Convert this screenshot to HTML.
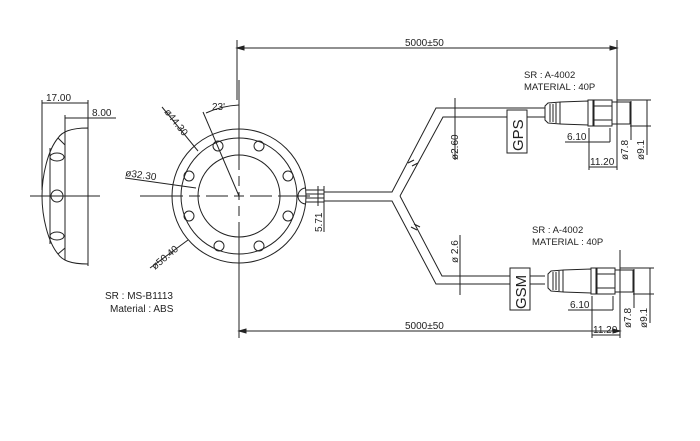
<!DOCTYPE html>
<html><head><meta charset="utf-8"><style>
html,body{margin:0;padding:0;background:#fff;}
svg{display:block;}
text{font-family:"Liberation Sans",sans-serif;fill:#222;}
</style></head><body>
<svg width="700" height="441" viewBox="0 0 700 441" xmlns="http://www.w3.org/2000/svg" stroke="#222" fill="none" stroke-width="1">
<!-- Side view -->
<path d="M88 128 C70 128 62 132 58 138 C48 150 42 175 42 196 C42 217 48 242 58 254 C62 260 70 264 88 264 Z"/>
<line x1="88" y1="124" x2="88" y2="266"/>
<line x1="65" y1="132" x2="65" y2="260"/>
<line x1="50" y1="148" x2="50" y2="244"/>
<ellipse cx="57" cy="157" rx="7" ry="4"/>
<ellipse cx="57" cy="196" rx="6" ry="6"/>
<ellipse cx="57" cy="236" rx="7" ry="4"/>
<path d="M58 138 L65 145 M58 254 L65 248"/>
<line x1="30" y1="196" x2="100" y2="196"/>
<!-- dims side -->
<line x1="42" y1="100" x2="42" y2="190"/>
<line x1="88" y1="100" x2="88" y2="124"/>
<line x1="42" y1="103" x2="88" y2="103"/>
<line x1="65" y1="115" x2="65" y2="132"/>
<line x1="65" y1="118" x2="116" y2="118"/>
<text x="46" y="101" font-size="10" stroke="none">17.00</text>
<text x="92" y="116" font-size="10" stroke="none">8.00</text>
<!-- main circle view -->
<circle cx="239" cy="196" r="67"/>
<circle cx="239" cy="196" r="58"/>
<circle cx="239" cy="196" r="41"/>
<g>
<ellipse cx="218" cy="146" rx="5" ry="5"/><ellipse cx="259" cy="146" rx="5" ry="5"/>
<ellipse cx="189" cy="176" rx="5" ry="5"/><ellipse cx="288" cy="176" rx="5" ry="5"/>
<ellipse cx="189" cy="216" rx="5" ry="5"/><ellipse cx="288" cy="216" rx="5" ry="5"/>
<ellipse cx="219" cy="246" rx="5" ry="5"/><ellipse cx="259" cy="246" rx="5" ry="5"/>
<path d="M306 188 A8 8 0 0 0 306 204"/>
</g>
<path d="M239 80 V170 M239 176 V186 M239 192 V200 M239 206 V216 M239 222 V280"/>
<path d="M140 196 H183 M189 196 H200 M206 196 H228 M234 196 H244 M250 196 H272 M278 196 H310"/>
<line x1="239" y1="196" x2="203" y2="112"/>
<path d="M206 113 A90 90 0 0 1 239 105"/>
<text x="212" y="110" font-size="10" stroke="none">23'</text>
<line x1="162" y1="107" x2="198" y2="151"/>
<text x="0" y="0" font-size="10" stroke="none" transform="translate(164,112) rotate(52)">ø44.30</text>
<line x1="125" y1="178" x2="196" y2="188"/>
<text x="125" y="176" font-size="10" stroke="none" transform="rotate(8 125 176)">ø32.30</text>
<line x1="150" y1="268" x2="188" y2="240"/>
<text x="0" y="0" font-size="10" stroke="none" transform="translate(155,270) rotate(-40)">ø50.40</text>
<!-- cable exit -->
<path d="M306 190 L324 190 M306 202 L324 202 M306 194 L324 194 M306 198 L324 198"/>
<line x1="324" y1="186" x2="324" y2="232"/>
<line x1="318" y1="186" x2="318" y2="206"/>
<text x="0" y="0" font-size="10" stroke="none" transform="translate(322,232) rotate(-90)">5.71</text>
<!-- cable -->
<path d="M324 192 L392 192 L436 108 L545 108"/>
<path d="M400 196 L443 117 L545 117"/>
<path d="M400 196 L442 276 L545 276"/>
<path d="M324 201 L392 201 L436 284 L545 284"/>
<path d="M408 163 l6 -3 m-2 6 l6 -3 M411 227 l6 3 m-3 -6 l6 3" stroke-width="1.2"/>
<!-- GPS dims -->
<line x1="455" y1="98" x2="455" y2="160"/>
<text x="0" y="0" font-size="10" stroke="none" transform="translate(458,160) rotate(-90)">ø2.60</text>
<rect x="507" y="110" width="20" height="43" fill="#fff"/>
<text x="0" y="0" font-size="15" stroke="none" transform="translate(523,151) rotate(-90)">GPS</text>
<text x="524" y="78" font-size="9.5" stroke="none">SR : A-4002</text>
<text x="524" y="90" font-size="9.5" stroke="none">MATERIAL : 40P</text>
<g>
<path d="M545 106 L548 103 L560 102 L560 124 L548 123 L545 120 Z"/>
<path d="M550 104 L550 122 M553 104 L553 122 M556 103 L556 123"/>
<path d="M560 102 L588 101 L588 125 L560 124"/>
<rect x="588" y="100" width="5" height="26"/>
<rect x="594" y="100" width="18" height="26"/>
<line x1="594" y1="106" x2="612" y2="106"/><line x1="594" y1="120" x2="612" y2="120"/>
<rect x="612" y="102" width="18" height="22"/>
<line x1="617" y1="40" x2="617" y2="128"/>
<line x1="617" y1="100" x2="651" y2="100"/><line x1="630" y1="126" x2="651" y2="126"/>
<line x1="631" y1="101" x2="631" y2="140"/>
<line x1="647" y1="100" x2="647" y2="155"/>
<text x="0" y="0" font-size="10" stroke="none" transform="translate(628,160) rotate(-90)">ø7.8</text>
<text x="0" y="0" font-size="10" stroke="none" transform="translate(644,160) rotate(-90)">ø9.1</text>
<line x1="589" y1="128" x2="589" y2="170"/><line x1="610" y1="128" x2="610" y2="142"/>
<line x1="565" y1="142" x2="610" y2="142"/>
<text x="567" y="140" font-size="10" stroke="none">6.10</text>
<line x1="589" y1="167" x2="617" y2="167"/><line x1="617" y1="128" x2="617" y2="170"/>
<text x="590" y="165" font-size="10" stroke="none">11.20</text>
</g>
<!-- GSM -->
<line x1="460" y1="235" x2="460" y2="295"/>
<text x="0" y="0" font-size="10" stroke="none" transform="translate(458,263) rotate(-90)">ø 2.6</text>
<rect x="510" y="268" width="20" height="42" fill="#fff"/>
<text x="0" y="0" font-size="15" stroke="none" transform="translate(526,309) rotate(-90)">GSM</text>
<text x="532" y="233" font-size="9.5" stroke="none">SR : A-4002</text>
<text x="532" y="245" font-size="9.5" stroke="none">MATERIAL : 40P</text>
<g transform="translate(3,168)">
<path d="M545 106 L548 103 L560 102 L560 124 L548 123 L545 120 Z"/>
<path d="M550 104 L550 122 M553 104 L553 122 M556 103 L556 123"/>
<path d="M560 102 L588 101 L588 125 L560 124"/>
<rect x="588" y="100" width="5" height="26"/>
<rect x="594" y="100" width="18" height="26"/>
<line x1="594" y1="106" x2="612" y2="106"/><line x1="594" y1="120" x2="612" y2="120"/>
<rect x="612" y="102" width="18" height="22"/>
<line x1="617" y1="100" x2="651" y2="100"/><line x1="630" y1="126" x2="651" y2="126"/>
<line x1="631" y1="101" x2="631" y2="140"/>
<line x1="647" y1="100" x2="647" y2="155"/>
<text x="0" y="0" font-size="10" stroke="none" transform="translate(628,160) rotate(-90)">ø7.8</text>
<text x="0" y="0" font-size="10" stroke="none" transform="translate(644,160) rotate(-90)">ø9.1</text>
<line x1="589" y1="128" x2="589" y2="170"/><line x1="610" y1="128" x2="610" y2="142"/>
<line x1="565" y1="142" x2="610" y2="142"/>
<text x="567" y="140" font-size="10" stroke="none">6.10</text>
<line x1="589" y1="167" x2="617" y2="167"/>
<text x="590" y="165" font-size="10" stroke="none">11.20</text>
</g>
<line x1="620" y1="250" x2="620" y2="338"/>
<!-- overall dims -->
<line x1="237" y1="40" x2="237" y2="100"/>
<line x1="237" y1="48" x2="617" y2="48"/>
<path d="M237 48 l7 -2 v4 Z M617 48 l-7 -2 v4 Z" fill="#222"/>
<text x="405" y="46" font-size="10" stroke="none">5000±50</text>
<line x1="239" y1="280" x2="239" y2="338"/>
<line x1="239" y1="331" x2="620" y2="331"/>
<path d="M239 331 l7 -2 v4 Z M620 331 l-7 -2 v4 Z" fill="#222"/>
<text x="405" y="329" font-size="10" stroke="none">5000±50</text>
<!-- notes -->
<text x="105" y="299" font-size="10" stroke="none">SR : MS-B1113</text>
<text x="110" y="312" font-size="10" stroke="none">Material : ABS</text>
</svg>
</body></html>
